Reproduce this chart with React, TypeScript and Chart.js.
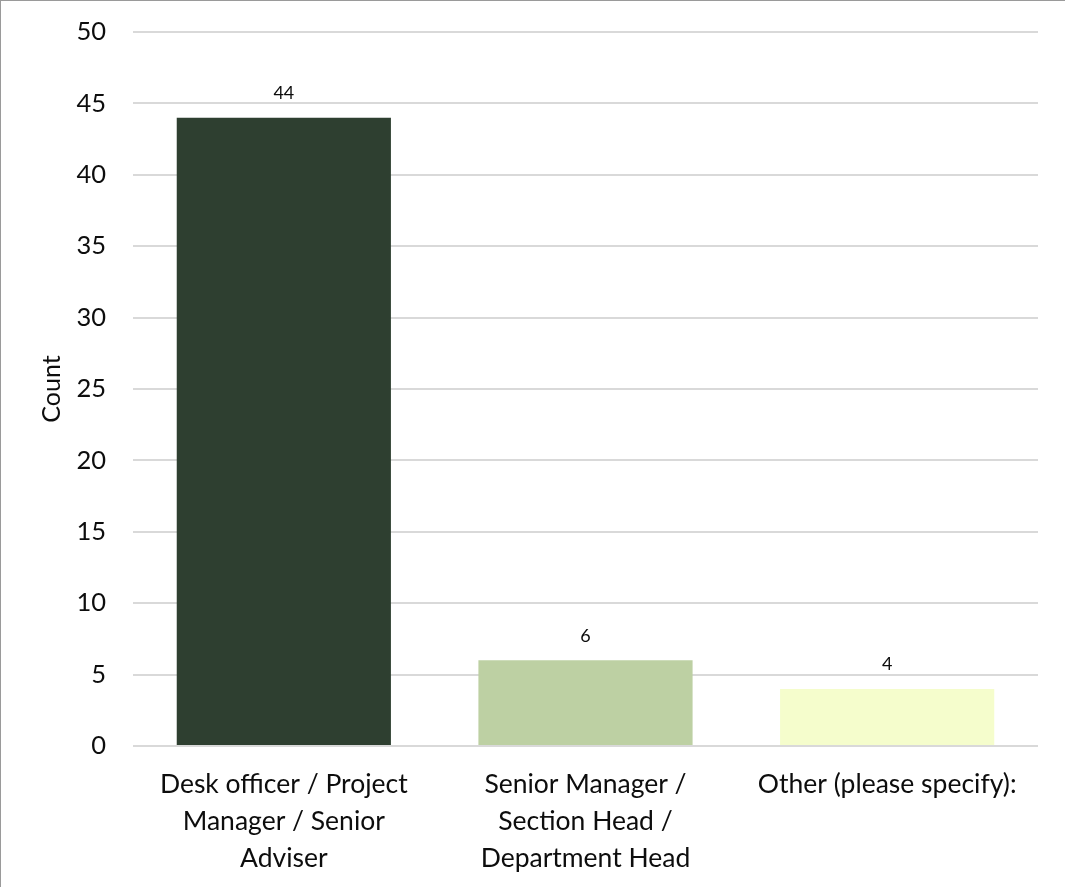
import React, { useEffect, useRef } from "react";
import { Chart, registerables } from "chart.js";

Chart.register(...registerables);

const categories: string[][] = [
  ["Desk officer / Project", "Manager / Senior", "Adviser"],
  ["Senior Manager /", "Section Head /", "Department Head"],
  ["Other (please specify):"],
];
const counts: number[] = [44, 6, 4];
const barColors: string[] = ["#2E3F30", "#BDD0A3", "#F5FDCC"];
const yTicks: number[] = [0, 5, 10, 15, 20, 25, 30, 35, 40, 45, 50];
const yTitle = "Count";

const FONT = "Lato, 'Open Sans', sans-serif";
const TEXT = "#0d0d0d";

const frame = {
  id: "frame",
  beforeDraw(chart: any) {
    const ctx = chart.ctx;
    ctx.save();
    ctx.fillStyle = "#ffffff";
    ctx.fillRect(0, 0, chart.width, chart.height);
    ctx.restore();
  },
  afterDraw(chart: any) {
    const ctx = chart.ctx;
    ctx.save();
    ctx.strokeStyle = "#9a9a9a";
    ctx.lineWidth = 2;
    ctx.beginPath();
    ctx.moveTo(0, chart.height);
    ctx.lineTo(0, 0);
    ctx.lineTo(chart.width, 0);
    ctx.stroke();
    ctx.restore();
  },
};

const dataLabels = {
  id: "dataLabels",
  afterDatasetsDraw(chart: any) {
    const ctx = chart.ctx;
    const meta = chart.getDatasetMeta(0);
    ctx.save();
    ctx.fillStyle = TEXT;
    ctx.font = `18px ${FONT}`;
    ctx.textAlign = "center";
    ctx.textBaseline = "middle";
    meta.data.forEach((bar: any, i: number) => {
      ctx.fillText(String(chart.data.datasets[0].data[i]), bar.x, bar.y - 24.5);
    });
    ctx.restore();
  },
};

export default function App() {
  const ref = useRef<HTMLCanvasElement>(null);
  useEffect(() => {
    if (!ref.current) return;
    const chart = new Chart(ref.current, {
      type: "bar",
      data: {
        labels: categories,
        datasets: [
          {
            data: counts,
            backgroundColor: barColors,
            borderWidth: 0,
            barPercentage: 0.71,
            categoryPercentage: 1,
          },
        ],
      },
      options: {
        responsive: false,
        animation: false,
        layout: { padding: { top: 32, right: 27, left: 0, bottom: 0 } },
        plugins: {
          legend: { display: false },
          tooltip: { enabled: false },
        },
        scales: {
          x: {
            grid: { display: false },
            border: { display: false },
            ticks: {
              color: TEXT,
              font: { family: FONT, size: 26.5, lineHeight: 1.4 },
              padding: 12,
              maxRotation: 0,
              autoSkip: false,
            },
            afterFit: (s: any) => {
              s.height = 141;
              s.paddingLeft = 0;
              s.paddingRight = 0;
            },
          },
          y: {
            min: 0,
            max: 50,
            afterBuildTicks: (s: any) => {
              s.ticks = yTicks.map((v) => ({ value: v }));
            },
            grid: { color: "#d9d9d9", lineWidth: 2, drawTicks: false },
            border: { display: false },
            ticks: {
              color: TEXT,
              font: { family: FONT, size: 25.5 },
              padding: 27,
            },
            title: {
              display: true,
              text: yTitle,
              color: TEXT,
              font: { family: FONT, size: 25 },
              padding: { top: 37, bottom: 0 },
            },
            afterFit: (s: any) => {
              s.width = 133;
              s.paddingTop = 0;
              s.paddingBottom = 0;
            },
          },
        },
      },
      plugins: [frame, dataLabels],
    });
    return () => chart.destroy();
  }, []);
  return (
    <div style={{ position: "fixed", left: 0, top: 0, width: 1065, height: 887, background: "#fff" }}>
      <canvas ref={ref} width={1065} height={887} style={{ display: "block" }} />
    </div>
  );
}
